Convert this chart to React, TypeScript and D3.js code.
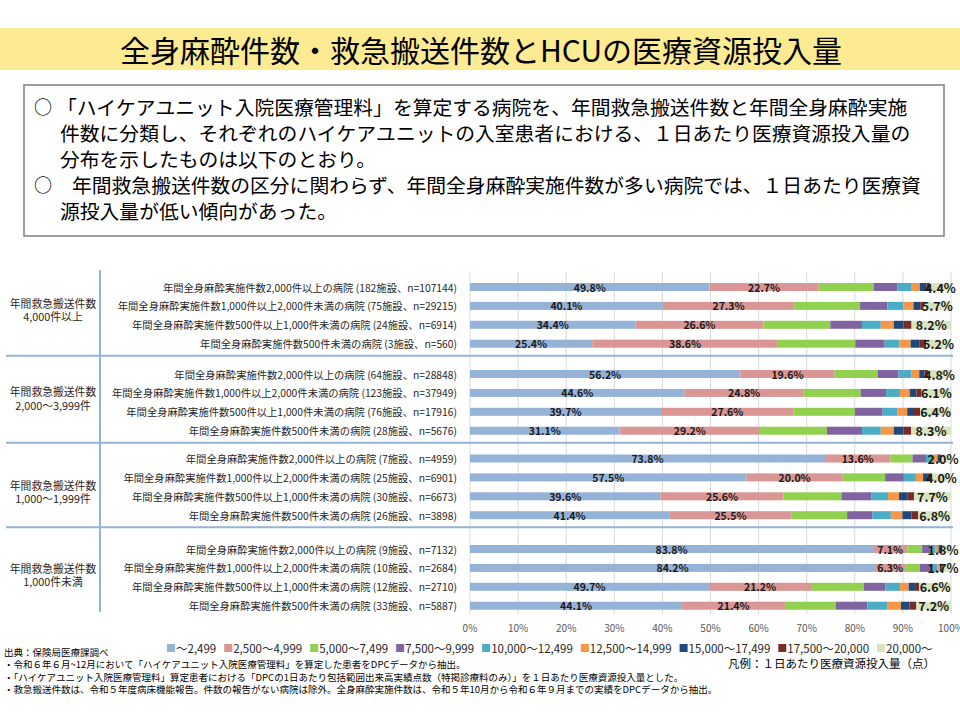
import { useEffect, useRef } from 'react';
import * as d3 from 'd3';

const WIDTH = 960;
const HEIGHT = 720;
const FONT = '"Noto Sans CJK JP", "Noto Sans", sans-serif';

const TITLE = '全身麻酔件数・救急搬送件数とHCUの医療資源投入量';

const SUMMARY_LINES = [
  { bullet: true, text: '「ハイケアユニット入院医療管理料」を算定する病院を、年間救急搬送件数と年間全身麻酔実施' },
  { bullet: false, text: '件数に分類し、それぞれのハイケアユニットの入室患者における、１日あたり医療資源投入量の' },
  { bullet: false, text: '分布を示したものは以下のとおり。' },
  { bullet: true, text: '年間救急搬送件数の区分に関わらず、年間全身麻酔実施件数が多い病院では、１日あたり医療資' },
  { bullet: false, text: '源投入量が低い傾向があった。' },
];

const GROUP_LABELS = [
  ['年間救急搬送件数', '4,000件以上'],
  ['年間救急搬送件数', '2,000〜3,999件'],
  ['年間救急搬送件数', '1,000〜1,999件'],
  ['年間救急搬送件数', '1,000件未満'],
];

const ROW_LABELS = [
  '年間全身麻酔実施件数2,000件以上の病院 (182施設、n=107144)',
  '年間全身麻酔実施件数1,000件以上2,000件未満の病院 (75施設、n=29215)',
  '年間全身麻酔実施件数500件以上1,000件未満の病院 (24施設、n=6914)',
  '年間全身麻酔実施件数500件未満の病院 (3施設、n=560)',
  '年間全身麻酔実施件数2,000件以上の病院 (64施設、n=28848)',
  '年間全身麻酔実施件数1,000件以上2,000件未満の病院 (123施設、n=37949)',
  '年間全身麻酔実施件数500件以上1,000件未満の病院 (76施設、n=17916)',
  '年間全身麻酔実施件数500件未満の病院 (28施設、n=5676)',
  '年間全身麻酔実施件数2,000件以上の病院 (7施設、n=4959)',
  '年間全身麻酔実施件数1,000件以上2,000件未満の病院 (25施設、n=6901)',
  '年間全身麻酔実施件数500件以上1,000件未満の病院 (30施設、n=6673)',
  '年間全身麻酔実施件数500件未満の病院 (26施設、n=3898)',
  '年間全身麻酔実施件数2,000件以上の病院 (9施設、n=7132)',
  '年間全身麻酔実施件数1,000件以上2,000件未満の病院 (10施設、n=2684)',
  '年間全身麻酔実施件数500件以上1,000件未満の病院 (12施設、n=2710)',
  '年間全身麻酔実施件数500件未満の病院 (33施設、n=5887)',
];

const CATEGORIES = [
  '〜2,499',
  '2,500〜4,999',
  '5,000〜7,499',
  '7,500〜9,999',
  '10,000〜12,499',
  '12,500〜14,999',
  '15,000〜17,499',
  '17,500〜20,000',
  '20,000〜',
];
const COLORS = ['#95b3d7', '#d99694', '#92d050', '#8064a2', '#4bacc6', '#f79646', '#1f497d', '#772c2a', '#d7e4bd'];

// share (%) of each cost band, one array per band, rows in ROW_LABELS order
const S_0 = [49.8, 40.1, 34.4, 25.4, 56.2, 44.6, 39.7, 31.1, 73.8, 57.5, 39.6, 41.4, 83.8, 84.2, 49.7, 44.1];
const S_2500 = [22.7, 27.3, 26.6, 38.6, 19.6, 24.8, 27.6, 29.2, 13.6, 20.0, 25.6, 25.5, 7.1, 6.3, 21.2, 21.4];
const S_5000 = [11.4, 13.7, 13.9, 16.1, 9.0, 11.8, 12.7, 13.9, 4.6, 8.8, 12.0, 11.5, 3.1, 3.0, 11.0, 10.5];
const S_7500 = [5.0, 5.7, 6.6, 6.1, 4.3, 5.3, 5.8, 7.3, 2.8, 3.9, 6.3, 5.3, 1.7, 2.4, 4.5, 6.6];
const S_10000 = [2.8, 3.3, 3.9, 3.1, 2.7, 2.9, 3.1, 3.9, 1.4, 2.5, 3.4, 3.8, 1.1, 1.3, 3.0, 4.1];
const S_12500 = [1.8, 2.1, 2.7, 2.3, 1.6, 2.0, 2.0, 2.7, 1.0, 1.5, 2.3, 2.4, 0.6, 0.5, 1.8, 2.9];
const S_15000 = [1.4, 1.4, 2.0, 1.9, 1.1, 1.4, 1.4, 2.0, 0.5, 1.0, 1.7, 1.9, 0.5, 0.4, 1.3, 1.8];
const S_17500 = [0.7, 0.7, 1.7, 1.3, 0.7, 1.1, 1.3, 1.6, 0.3, 0.8, 1.4, 1.4, 0.3, 0.2, 0.9, 1.4];
const S_20000 = [4.4, 5.7, 8.2, 5.2, 4.8, 6.1, 6.4, 8.3, 2.0, 4.0, 7.7, 6.8, 1.8, 1.7, 6.6, 7.2];
const SERIES = [S_0, S_2500, S_5000, S_7500, S_10000, S_12500, S_15000, S_17500, S_20000];

const X_TICKS = [0, 10, 20, 30, 40, 50, 60, 70, 80, 90, 100];

const SOURCE_NOTE = '出典：保険局医療課調べ';
const FOOTNOTES = [
  '・令和６年６月~12月において「ハイケアユニット入院医療管理料」を算定した患者をDPCデータから抽出。',
  '・「ハイケアユニット入院医療管理料」算定患者における「DPCの1日あたり包括範囲出来高実績点数（特掲診療料のみ）」を１日あたり医療資源投入量とした。',
  '・救急搬送件数は、令和５年度病床機能報告。件数の報告がない病院は除外。全身麻酔実施件数は、令和５年10月から令和６年９月までの実績をDPCデータから抽出。',
];
const LEGEND_NOTE = '凡例：１日あたり医療資源投入量（点）';

const PLOT_LEFT = 470;
const PLOT_RIGHT = 951;
const GROUP_TOPS = [287, 374, 458.5, 549];
const GROUP_LABEL_SHIFT = [-6, -4.5, 4.5, -3];
const ROW_STEP = 18.9;
const BAR_H = 8;

export default function App() {
  const svgRef = useRef<SVGSVGElement | null>(null);

  useEffect(() => {
    const svgEl = svgRef.current;
    if (!svgEl) return;
    const svg = d3.select(svgEl);
    svg.selectAll('*').remove();

    // ---- title band ---------------------------------------------------------
    svg.append('rect').attr('x', 0).attr('y', 28).attr('width', WIDTH).attr('height', 42).attr('fill', '#fdeb94');
    svg
      .append('text')
      .attr('x', 481)
      .attr('y', 49)
      .attr('text-anchor', 'middle')
      .attr('dominant-baseline', 'central')
      .attr('font-family', FONT)
      .attr('font-size', 30)
      .attr('fill', '#000')
      .text(TITLE);

    // ---- summary box --------------------------------------------------------
    svg
      .append('rect')
      .attr('x', 24)
      .attr('y', 85)
      .attr('width', 920)
      .attr('height', 151)
      .attr('fill', '#fff')
      .attr('stroke', '#7f7f7f')
      .attr('stroke-width', 1.5);
    SUMMARY_LINES.forEach((line, i) => {
      const y = 106 + i * 26;
      if (line.bullet) {
        svg
          .append('text')
          .attr('x', 34)
          .attr('y', y)
          .attr('dominant-baseline', 'central')
          .attr('font-family', FONT)
          .attr('font-size', 18)
          .attr('fill', '#000')
          .text('○');
      }
      svg
        .append('text')
        .attr('x', line.bullet ? (i === 0 ? 57 : 72) : 60)
        .attr('y', y)
        .attr('dominant-baseline', 'central')
        .attr('font-family', FONT)
        .attr('font-size', 19.8)
        .attr('fill', '#000')
        .text(line.text);
    });

    // ---- chart --------------------------------------------------------------
    const x = d3.scaleLinear().domain([0, 100]).range([PLOT_LEFT, PLOT_RIGHT]);
    const rowY = (i: number) => GROUP_TOPS[Math.floor(i / 4)] + (i % 4) * ROW_STEP;

    const rows = ROW_LABELS.map((label, i) => {
      const rec: Record<string, number | string> = { label };
      CATEGORIES.forEach((c, k) => (rec[c] = SERIES[k][i]));
      return rec;
    });
    const stacked = d3.stack<Record<string, number | string>>().keys(CATEGORIES).value((d, key) => d[key] as number)(rows);

    // grid
    svg
      .append('g')
      .selectAll('line')
      .data(X_TICKS)
      .join('line')
      .attr('x1', (d) => x(d))
      .attr('x2', (d) => x(d))
      .attr('y1', 272)
      .attr('y2', 614)
      .attr('stroke', '#d9d9d9')
      .attr('stroke-width', 1);

    // bars
    stacked.forEach((layer, k) => {
      svg
        .append('g')
        .selectAll('rect')
        .data(layer)
        .join('rect')
        .attr('x', (d) => x(d[0]))
        .attr('y', (_, i) => rowY(i) - BAR_H / 2)
        .attr('width', (d) => Math.max(0, x(d[1]) - x(d[0])))
        .attr('height', BAR_H)
        .attr('fill', COLORS[k]);
    });

    // labels on first two bands and last band
    [0, 1, 8].forEach((k) => {
      const layer = stacked[k];
      svg
        .append('g')
        .selectAll('text')
        .data(layer)
        .join('text')
        .attr('x', (d) => Math.min(x((d[0] + d[1]) / 2), 943))
        .attr('y', (_, i) => rowY(i))
        .attr('text-anchor', 'middle')
        .attr('dominant-baseline', 'central')
        .attr('font-family', FONT)
        .attr('font-weight', 'bold')
        .attr('font-size', k === 8 ? 12.5 : 10.5)
        .attr('fill', '#1a1a1a')
        .text((_, i) => `${SERIES[k][i].toFixed(1)}%`);
    });

    // row labels
    svg
      .append('g')
      .selectAll('text')
      .data(ROW_LABELS)
      .join('text')
      .attr('x', 457)
      .attr('y', (_, i) => rowY(i))
      .attr('text-anchor', 'end')
      .attr('dominant-baseline', 'central')
      .attr('font-family', FONT)
      .attr('font-size', 10.3)
      .attr('fill', '#262626')
      .text((d) => d);

    // group separators and labels
    const sepColor = '#95b3d7';
    GROUP_LABELS.forEach((lines, g) => {
      const first = rowY(g * 4);
      const last = rowY(g * 4 + 3);
      if (g < GROUP_LABELS.length - 1) {
        svg
          .append('line')
          .attr('x1', 6)
          .attr('x2', 953)
          .attr('y1', last + 12)
          .attr('y2', last + 12)
          .attr('stroke', sepColor)
          .attr('stroke-width', 2);
      }
      const mid = (first + last) / 2 + GROUP_LABEL_SHIFT[g];
      lines.forEach((t, j) => {
        svg
          .append('text')
          .attr('x', 53)
          .attr('y', mid + (j - 0.5) * 13.5)
          .attr('text-anchor', 'middle')
          .attr('dominant-baseline', 'central')
          .attr('font-family', FONT)
          .attr('font-size', 10.8)
          .attr('fill', '#262626')
          .text(t);
      });
    });
    svg
      .append('line')
      .attr('x1', 100)
      .attr('x2', 100)
      .attr('y1', 270)
      .attr('y2', 612)
      .attr('stroke', sepColor)
      .attr('stroke-width', 2);

    // x axis labels
    svg
      .append('g')
      .selectAll('text')
      .data(X_TICKS)
      .join('text')
      .attr('x', (d) => x(d))
      .attr('y', 627)
      .attr('text-anchor', 'middle')
      .attr('dominant-baseline', 'central')
      .attr('font-family', FONT)
      .attr('font-size', 10)
      .attr('fill', '#595959')
      .text((d) => `${d}%`);

    // legend
    let lx = 167;
    const legendY = 648;
    CATEGORIES.forEach((c, k) => {
      svg
        .append('rect')
        .attr('x', lx)
        .attr('y', legendY - 4)
        .attr('width', 8)
        .attr('height', 8)
        .attr('fill', COLORS[k]);
      const t = svg
        .append('text')
        .attr('x', lx + 9)
        .attr('y', legendY)
        .attr('dominant-baseline', 'central')
        .attr('font-family', FONT)
        .attr('font-size', 11.5)
        .attr('fill', '#262626')
        .text(c);
      const w = (t.node() as SVGTextElement).getComputedTextLength();
      lx += 9 + w + 8;
    });

    // notes
    svg
      .append('text')
      .attr('x', 4)
      .attr('y', 652)
      .attr('dominant-baseline', 'central')
      .attr('font-family', FONT)
      .attr('font-size', 9.5)
      .attr('fill', '#000')
      .text(SOURCE_NOTE);
    FOOTNOTES.forEach((t, i) => {
      svg
        .append('text')
        .attr('x', 4)
        .attr('y', 664 + i * 12.5)
        .attr('dominant-baseline', 'central')
        .attr('font-family', FONT)
        .attr('font-size', 9.5)
        .attr('fill', '#000')
        .text(t);
    });
    svg
      .append('text')
      .attr('x', 935)
      .attr('y', 663)
      .attr('text-anchor', 'end')
      .attr('dominant-baseline', 'central')
      .attr('font-family', FONT)
      .attr('font-size', 11.5)
      .attr('fill', '#000')
      .text(LEGEND_NOTE);
  }, []);

  return (
    <div style={{ position: 'absolute', left: 0, top: 0 }}>
      <svg
        ref={svgRef}
        width={WIDTH}
        height={HEIGHT}
        viewBox={`0 0 ${WIDTH} ${HEIGHT}`}
        style={{ display: 'block', background: '#fff' }}
      />
    </div>
  );
}
